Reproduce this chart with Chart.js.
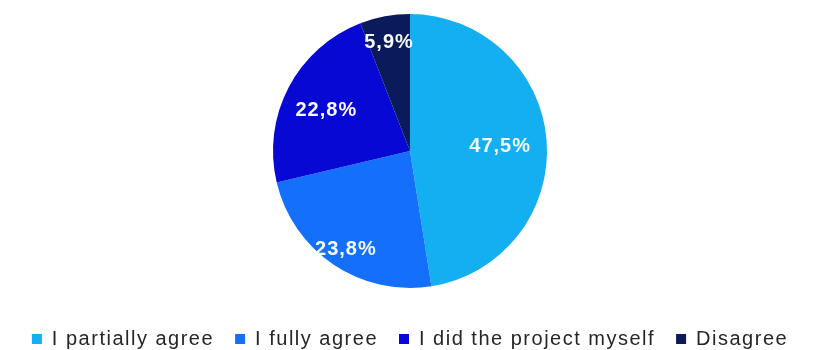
<!DOCTYPE html>
<html>
<head>
<meta charset="utf-8">
<script src="https://cdn.jsdelivr.net/npm/chart.js@4/dist/chart.umd.min.js"></script>
<style>
  html, body { margin: 0; padding: 0; background: #fff; }
  #wrap { width: 815px; height: 350px; }
</style>
</head>
<body>
<div id="wrap"><canvas id="pie-chart" width="815" height="350"></canvas></div>
<script>
// categorias y porcentajes
const categorias = [
  "I partially agree",
  "I fully agree",
  "I did the project myself",
  "Disagree"
];
const porcentajes = [47.5, 23.8, 22.8, 5.9];
const colores = ["#14aff0", "#1470fa", "#0808d4", "#0a1a5a"];

// distancia de cada etiqueta al centro (fraccion del radio)
const distEtiquetas = [0.66, 0.84, 0.69, 0.83];

// espaciado de letras, se pierde cuando el canvas cambia de tamano
const espaciado = {
  id: "espaciado",
  beforeUpdate(chart) { chart.ctx.letterSpacing = "1.5px"; },
  beforeLayout(chart) { chart.ctx.letterSpacing = "1.5px"; },
  // sube un poco el centro del pastel
  afterLayout(chart) { chart.chartArea.top -= 6; },
  beforeDraw(chart) { chart.ctx.letterSpacing = "1.5px"; }
};

// etiquetas de porcentaje dentro de cada porcion
const etiquetas = {
  id: "etiquetas",
  afterDatasetsDraw(chart) {
    const ctx = chart.ctx;
    const arcos = chart.getDatasetMeta(0).data;
    ctx.save();
    ctx.letterSpacing = "1px";
    ctx.font = "bold 20px 'Liberation Sans', Arial, sans-serif";
    ctx.fillStyle = "#f4faff";
    ctx.textAlign = "center";
    ctx.textBaseline = "middle";
    arcos.forEach((arco, i) => {
      const p = arco.getProps(["x", "y", "startAngle", "endAngle", "outerRadius"], true);
      const medio = (p.startAngle + p.endAngle) / 2;
      const d = p.outerRadius * distEtiquetas[i];
      const texto = porcentajes[i].toFixed(1).replace(".", ",") + "%";
      ctx.fillText(texto, p.x + Math.cos(medio) * d, p.y + Math.sin(medio) * d + 3);
    });
    ctx.restore();
  }
};

const contenedorPie = document
.querySelector("#pie-chart")
.getContext("2d")

const pieChart = new Chart(contenedorPie, {
  type: "pie",
  data: {
    labels: categorias,
    datasets: [{
      data: porcentajes,
      backgroundColor: colores,
      borderWidth: 0,
      radius: 137
    }]
  },
  options: {
    responsive: false,
    animation: false,
    layout: { padding: { top: 0, left: 5, right: 0, bottom: 0 } },
    plugins: {
      tooltip: { enabled: false },
      legend: {
        position: "bottom",
        maxHeight: 42,
        labels: {
          boxWidth: 10,
          boxHeight: 10,
          padding: 21,
          color: "#262626",
          font: { family: "'Liberation Sans', Arial, sans-serif", size: 20 }
        }
      }
    }
  },
  plugins: [espaciado, etiquetas]
})
</script>
</body>
</html>
